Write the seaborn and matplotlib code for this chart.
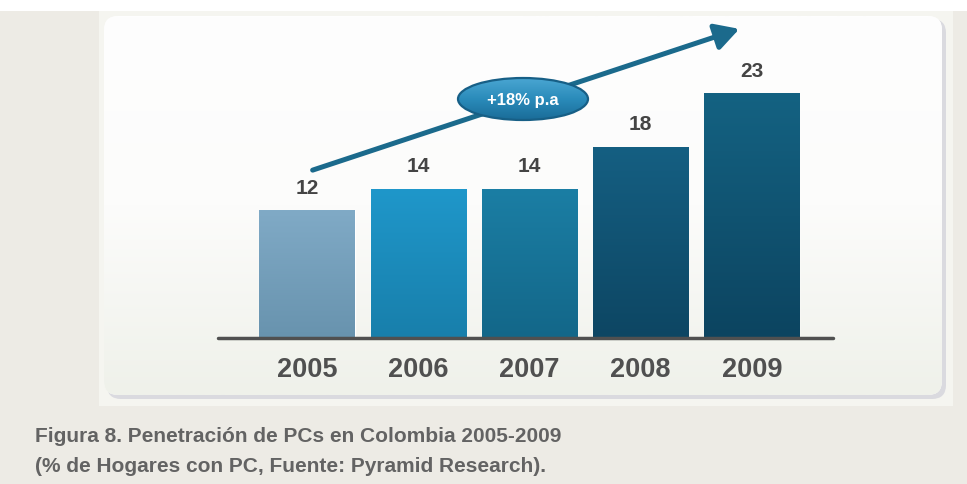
import numpy as np
import pandas as pd
import matplotlib
matplotlib.use("Agg")
import matplotlib.pyplot as plt
from matplotlib.patches import FancyBboxPatch, Rectangle, Ellipse, FancyArrowPatch
from matplotlib.colors import LinearSegmentedColormap
import seaborn as sns

# --- data -------------------------------------------------------------
years = ["2005", "2006", "2007", "2008", "2009"]
penetration = [12, 14, 14, 18, 23]
growth_label = "+18% p.a"
caption_lines = [
    "Figura 8. Penetración de PCs en Colombia 2005-2009",
    "(% de Hogares con PC, Fuente: Pyramid Research).",
]

# top / bottom colours of each bar's vertical gradient
bar_top = ["#80AAC6", "#1F97CA", "#1B7EA4", "#155F82", "#146282"]
bar_bottom = ["#6893AE", "#187FAB", "#136789", "#0D4663", "#0C4460"]

W, H = 967, 485
sns.set_theme(style="white")
plt.rcParams["font.family"] = ["Liberation Sans", "DejaVu Sans"]

fig = plt.figure(figsize=(W / 100, H / 100), dpi=100)
fig.patch.set_facecolor("#EDEBE5")


def pixel_axes(z):
    """Full-figure overlay axes addressed in pixels, origin top-left."""
    a = fig.add_axes([0, 0, 1, 1], zorder=z)
    a.set_axis_off()
    a.patch.set_alpha(0)
    a.set_xlim(0, W)
    a.set_ylim(H, 0)
    return a


# --- background card --------------------------------------------------
bg = pixel_axes(-1)
bg.add_patch(Rectangle((0, 0), W, 12, facecolor="white", edgecolor="none", zorder=0))
bg.add_patch(Rectangle((99, 12), 854, 395, facecolor="#F5F5F0", edgecolor="none", zorder=0))
bg.add_patch(FancyBboxPatch((107, 20), 839, 380, boxstyle="round,pad=0,rounding_size=14",
                            facecolor="#DADADF", edgecolor="none", zorder=1))
card = FancyBboxPatch((104, 17), 838, 379, boxstyle="round,pad=0,rounding_size=14",
                      facecolor="#FBFBF9", edgecolor="none", zorder=2)
bg.add_patch(card)
card_cmap = LinearSegmentedColormap.from_list("card", ["#FEFEFE", "#FCFCFB", "#EFF1EA"])
cim = bg.imshow(np.linspace(0, 1, 256).reshape(-1, 1), cmap=card_cmap, aspect="auto",
                extent=[104, 942, 396, 17], origin="upper", zorder=3)
cim.set_clip_path(card)
bg.set_xlim(0, W)
bg.set_ylim(H, 0)

# --- bar chart --------------------------------------------------------
ax = fig.add_axes([218 / W, 1 - 339 / H, (833 - 218) / W, (339 - 20) / H], zorder=1)
ax.patch.set_alpha(0)
df = pd.DataFrame({"year": years, "value": penetration})
sns.barplot(data=df, x="year", y="value", hue="year", palette=bar_top,
            width=0.855, legend=False, ax=ax, saturation=1, zorder=2)

for i, patch in enumerate(ax.patches):
    x0, y0 = patch.get_x(), patch.get_y()
    w, h = patch.get_width(), patch.get_height()
    cmap = LinearSegmentedColormap.from_list(f"b{i}", [bar_bottom[i], bar_top[i]])
    g = ax.imshow(np.linspace(0, 1, 128).reshape(-1, 1), cmap=cmap, origin="lower",
                  aspect="auto", extent=[x0, x0 + w, y0, y0 + h], zorder=3)
    g.set_clip_path(patch)
    ax.text(x0 + w / 2, h + 1.3, f"{penetration[i]}", ha="center", va="bottom",
            fontsize=15, fontweight="bold", color="#444444", zorder=4)

ax.set_xlim(-0.8, 4.73)
ax.set_ylim(0, 30)
ax.axhline(0, color="#505050", lw=2.5, zorder=5, clip_on=False)
for s in ax.spines.values():
    s.set_visible(False)
ax.set_yticks([])
ax.set_xlabel("")
ax.set_ylabel("")
ax.tick_params(axis="x", length=0, pad=13)
for lab in ax.get_xticklabels():
    lab.set_fontsize(19.5)
    lab.set_fontweight("bold")
    lab.set_color("#505050")

# --- growth arrow and badge --------------------------------------------
top = pixel_axes(10)
top.add_patch(FancyArrowPatch((310, 172), (742, 29),
                              arrowstyle="-|>,head_length=9,head_width=5",
                              mutation_scale=1.6, color="#1B6A8C", lw=3.6, zorder=1,
                              capstyle="round"))
cx, cy, ew, eh = 523, 100, 130, 42
ell_clip = Ellipse((cx, cy), ew, eh, facecolor="#2A88B5", edgecolor="none", zorder=2)
top.add_patch(ell_clip)
badge_cmap = LinearSegmentedColormap.from_list("badge", ["#4AA6D2", "#2A8BBA", "#1A6C98"])
bim = top.imshow(np.linspace(0, 1, 128).reshape(-1, 1), cmap=badge_cmap, aspect="auto",
                 extent=[cx - ew / 2, cx + ew / 2, cy + eh / 2, cy - eh / 2],
                 origin="upper", zorder=3)
bim.set_clip_path(ell_clip)
top.add_patch(Ellipse((cx, cy), ew, eh, facecolor="none", edgecolor="#175F86",
                      lw=1.6, zorder=4))
top.text(cx, cy + 1, growth_label, ha="center", va="center", fontsize=12,
         fontweight="bold", color="white", zorder=5)
top.set_xlim(0, W)
top.set_ylim(H, 0)

# --- caption ----------------------------------------------------------
for k, line in enumerate(caption_lines):
    fig.text(35 / W, 1 - (437 + 30 * k) / H, line, ha="left", va="center",
             fontsize=15, fontweight="bold", color="#636363")

fig.savefig("out.png", dpi=100, facecolor=fig.get_facecolor())
